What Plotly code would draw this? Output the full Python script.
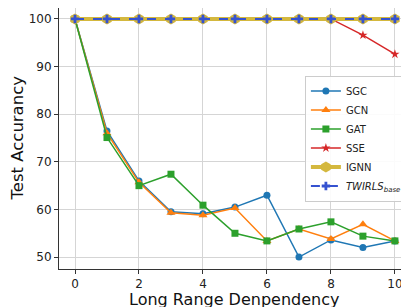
import plotly.graph_objects as go

x = list(range(11))
sgc = [100, 76.5, 66.0, 59.5, 59.1, 60.5, 63.0, 50.0, 53.6, 52.0, 53.4]
gcn = [100, 76.0, 65.7, 59.3, 58.8, 60.3, 53.4, 55.9, 53.8, 56.9, 53.4]
gat = [100, 75.1, 65.0, 67.4, 60.9, 55.0, 53.4, 55.9, 57.4, 54.4, 53.4]
sse = [100, 100, 100, 100, 100, 100, 100, 100, 100, 96.6, 92.6]
ignn = [100] * 11
twirls = [100] * 11

fig = go.Figure()
fig.add_trace(go.Scatter(x=x, y=sgc, name="SGC", mode="lines+markers",
                         line=dict(color="#1f77b4", width=1.5),
                         marker=dict(symbol="circle", size=7, color="#1f77b4")))
fig.add_trace(go.Scatter(x=x, y=gcn, name="GCN", mode="lines+markers",
                         line=dict(color="#ff7f0e", width=1.5),
                         marker=dict(symbol="triangle-up", size=8, color="#ff7f0e")))
fig.add_trace(go.Scatter(x=x, y=gat, name="GAT", mode="lines+markers",
                         line=dict(color="#2ca02c", width=1.5),
                         marker=dict(symbol="square", size=7, color="#2ca02c")))
fig.add_trace(go.Scatter(x=x, y=sse, name="SSE", mode="lines+markers",
                         line=dict(color="#d62728", width=1.5),
                         marker=dict(symbol="star", size=7, color="#d62728")))
fig.add_trace(go.Scatter(x=x, y=ignn, name="IGNN", mode="lines+markers",
                         line=dict(color="#d4b83e", width=4),
                         marker=dict(symbol="hexagon", size=11, color="#d4b83e")))
fig.add_trace(go.Scatter(x=x, y=twirls, name="<i>TWIRLS<sub>base</sub></i>", mode="lines+markers",
                         line=dict(color="#3552d0", width=2, dash="dash"),
                         marker=dict(symbol="cross", size=7, color="#3552d0")))

# page body has an 8px margin, so the figure is sized to the visible area
fig.update_layout(
    width=401, height=299,
    margin=dict(l=51, r=0, t=0, b=38, autoexpand=False),
    paper_bgcolor="white", plot_bgcolor="white",
    font=dict(family="DejaVu Sans", size=12, color="#222"),
    showlegend=True,
    legend=dict(x=0.994, y=0.50, xanchor="right", yanchor="middle",
                bgcolor="rgba(255,255,255,0.9)", bordercolor="#cccccc", borderwidth=1,
                font=dict(size=10, color="#222"), tracegroupgap=0,
                itemwidth=30),
    xaxis=dict(range=[-0.5, 10.44], tickvals=[0, 2, 4, 6, 8, 10],
               showgrid=True, gridcolor="#d5d5d5", gridwidth=1.2,
               showline=True, linecolor="#333", linewidth=1, mirror=True,
               ticks="outside", ticklen=4, tickcolor="#333", zeroline=False,
               automargin=False),
    yaxis=dict(range=[47.5, 102.3], tickvals=[50, 60, 70, 80, 90, 100],
               showgrid=True, gridcolor="#d5d5d5", gridwidth=1.2,
               showline=True, linecolor="#333", linewidth=1, mirror=True,
               ticks="outside", ticklen=4, tickcolor="#333", zeroline=False,
               automargin=False),
    annotations=[
        dict(text="Long Range Denpendency", xref="paper", yref="paper",
             x=0.5, y=-0.118, xanchor="center", yanchor="middle",
             showarrow=False, font=dict(size=16, color="#111")),
        dict(text="Test Accurancy", xref="paper", yref="paper",
             x=-0.12, y=0.5, xanchor="center", yanchor="middle", textangle=-90,
             showarrow=False, font=dict(size=16.5, color="#111")),
    ],
)

fig.write_html("out.html")
